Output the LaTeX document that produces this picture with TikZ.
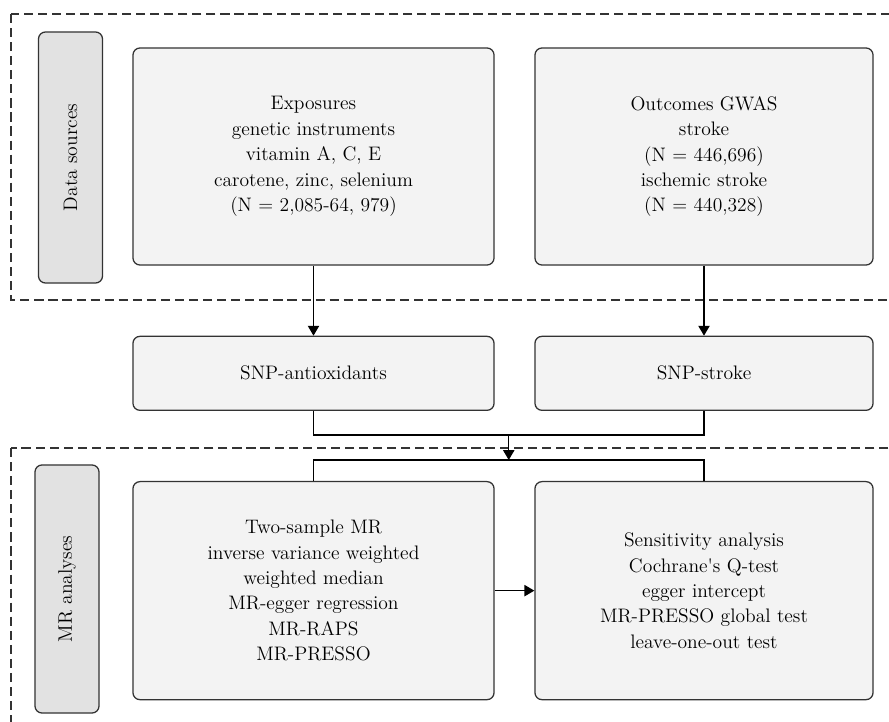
\documentclass[tikz,border=0pt]{standalone}
\usetikzlibrary{positioning}
\usetikzlibrary{arrows.meta}
\definecolor{boxgray}{HTML}{F3F3F3}
\definecolor{labelgray}{HTML}{E2E2E2}
\definecolor{linegray}{HTML}{333333}

\begin{document}
\begin{tikzpicture}[x=0.025cm, y=-0.025cm,
  every node/.style = {align=center, font=\fontsize{13.9}{18.07}\selectfont},
  stage/.style = {shape=rectangle, rounded corners=5pt, draw=linegray,
    line width=0.9pt, fill=boxgray},
  sidelabel/.style = {stage, fill=labelgray, rotate=90, minimum height=1.6cm},
  frame/.style = {draw=linegray, dash pattern=on 6.5pt off 3.5pt, line width=0.85pt},
  link/.style = {draw=black, line width=0.9pt, >={Triangle[length=7pt,width=8pt]}}
  ]
  \clip (0,0) rectangle (889,722);

  % dashed groups
  \draw[frame] (11,14) rectangle (910,300);
  \draw[frame] (11,448) rectangle (910,740);

  \node[sidelabel, minimum width=6.275cm] (datalbl) at (70.5,157.5) {Data sources};
  \node[sidelabel, minimum width=6.2cm] (mrlbl) at (67,589) {MR analyses};

  \node[stage, minimum width=9.025cm, minimum height=5.425cm] (expo) at (313.5,156.5)
    {Exposures\\genetic instruments\\vitamin A, C, E\\carotene, zinc, selenium\\(N = 2,085-64, 979)};
  \node[stage, minimum width=8.45cm, minimum height=5.425cm] (outc) at (704,156.5)
    {Outcomes GWAS\\stroke\\(N = 446,696)\\ischemic stroke\\(N = 440,328)};

  \node[stage, minimum width=9.025cm, minimum height=1.85cm, below=1.75cm of expo] (snpa) {SNP-antioxidants};
  \node[stage, minimum width=8.45cm, minimum height=1.85cm, below=1.75cm of outc] (snps) {SNP-stroke};

  \node[stage, minimum width=9.025cm, minimum height=5.45cm, below=1.75cm of snpa] (twosmp)
    {Two-sample MR\\inverse variance weighted\\weighted median\\MR-egger regression\\MR-RAPS\\MR-PRESSO};
  \node[stage, minimum width=8.45cm, minimum height=5.45cm, below=1.75cm of snps] (sens)
    {Sensitivity analysis\\Cochrane\textquotesingle s Q-test\\egger intercept\\MR-PRESSO global test\\leave-one-out test};

  \coordinate (joinup) at (508.75,435);
  \coordinate (joindn) at (508.75,460);

  \draw[link,->] (expo) -- (snpa);
  \draw[link,->] (outc) -- (snps);
  \draw[link] (snpa.south) |- (joinup) -| (snps.south);
  \draw[link,->] (joinup) -- (joindn);
  \draw[link] (twosmp.north) |- (joindn) -| (sens.north);
  \draw[link,->] (twosmp) -- (sens);
\end{tikzpicture}
\end{document}
